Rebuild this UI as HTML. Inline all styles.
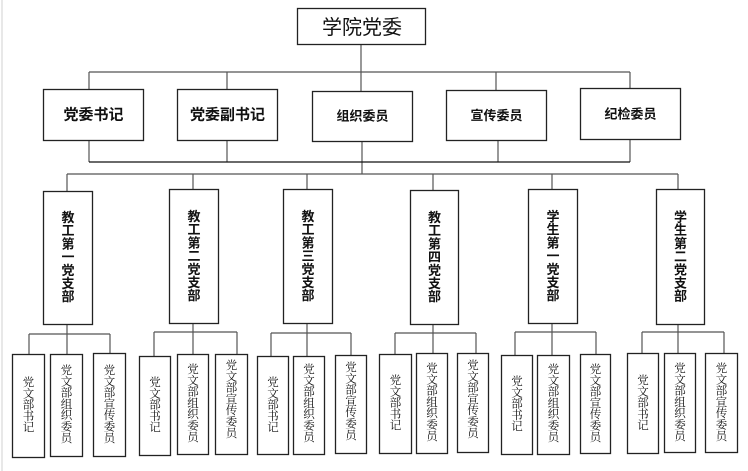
<!DOCTYPE html>
<html>
<head>
<meta charset="utf-8">
<style>
html,body{margin:0;padding:0;background:#fff;}
svg{display:block;}
.sans{font-family:"Liberation Sans","Noto Sans CJK SC",sans-serif;}
.serif{font-family:"Liberation Serif","Noto Serif CJK SC",serif;}
text{dominant-baseline:central;text-anchor:middle;fill:#111;}
.box{fill:#fff;stroke:#222;stroke-width:1.3;}
.ln{stroke:#555;stroke-width:1.2;fill:none;}
.lnd{stroke:#111;stroke-width:1.3;fill:none;}
.r3{font-size:13px;font-weight:bold;}
.bt{font-size:11.5px;}
</style>
</head>
<body>
<svg width="748" height="471" viewBox="0 0 748 471" xmlns="http://www.w3.org/2000/svg">
<line x1="2" y1="0" x2="2" y2="471" stroke="#d0d0d0" stroke-width="1"/>

<!-- top connectors -->
<path class="ln" d="M361 44 V72 M89 72 H630 M89 72 V89 M227 72 V89 M361 72 V91 M496 72 V90 M630 72 V88"/>
<path class="ln" d="M89 140 V162 M227 140 V162 M362 141 V174 M498 140 V162 M630 139 V162"/>
<path class="lnd" d="M89 162 H630"/>
<path class="ln" d="M67 174 H678 M67 174 V191 M193 174 V189 M307 174 V189 M433 174 V190 M552 174 V189 M678 174 V189"/>

<!-- row3 to groups -->
<path class="ln" d="M67 324 V354 M29 334 H110 M29 334 V354 M110 334 V353"/>
<path class="ln" d="M193 323 V354 M154 332 H237 M154 332 V356 M237 332 V354"/>
<path class="ln" d="M307 323 V356 M271 333 H351 M271 333 V356 M351 333 V355"/>
<path class="ln" d="M433 324 V353 M395 333 H476 M395 333 V354 M476 333 V353"/>
<path class="ln" d="M552 323 V355 M515 332 H596 M515 332 V355 M596 332 V354"/>
<path class="ln" d="M678 324 V353 M642 332 H724 M642 332 V353 M724 332 V353"/>

<!-- top box -->
<rect class="box" x="297.5" y="8.5" width="128" height="36"/>
<text class="sans" x="362" y="28" font-size="20">学院党委</text>

<!-- row 2 -->
<rect class="box" x="43.5" y="89.5" width="100" height="51"/>
<text class="sans" x="93.5" y="115" font-size="15" font-weight="bold">党委书记</text>
<rect class="box" x="177.5" y="89.5" width="100" height="51"/>
<text class="sans" x="227.5" y="115" font-size="15" font-weight="bold">党委副书记</text>
<rect class="box" x="312.5" y="91.5" width="100" height="50"/>
<text class="sans" x="362.5" y="116" font-size="13" font-weight="bold">组织委员</text>
<rect class="box" x="446.5" y="90.5" width="100" height="50"/>
<text class="sans" x="496.5" y="115.5" font-size="13" font-weight="bold">宣传委员</text>
<rect class="box" x="580.5" y="88.5" width="100" height="51"/>
<text class="sans" x="630.5" y="114" font-size="13" font-weight="bold">纪检委员</text>

<!-- row 3 -->
<rect class="box" x="43.5" y="191.5" width="49" height="133"/>
<text class="sans r3"><tspan x="68" y="217">教</tspan><tspan x="68" y="230.2">工</tspan><tspan x="68" y="243.4">第</tspan><tspan x="68" y="256.6">一</tspan><tspan x="68" y="269.8">党</tspan><tspan x="68" y="283">支</tspan><tspan x="68" y="296.2">部</tspan></text>
<rect class="box" x="169.5" y="189.5" width="49" height="134"/>
<text class="sans r3"><tspan x="194" y="216">教</tspan><tspan x="194" y="229.2">工</tspan><tspan x="194" y="242.4">第</tspan><tspan x="194" y="255.6">二</tspan><tspan x="194" y="268.8">党</tspan><tspan x="194" y="282">支</tspan><tspan x="194" y="295.2">部</tspan></text>
<rect class="box" x="283.5" y="189.5" width="49" height="134"/>
<text class="sans r3"><tspan x="308" y="216">教</tspan><tspan x="308" y="229.2">工</tspan><tspan x="308" y="242.4">第</tspan><tspan x="308" y="255.6">三</tspan><tspan x="308" y="268.8">党</tspan><tspan x="308" y="282">支</tspan><tspan x="308" y="295.2">部</tspan></text>
<rect class="box" x="410.5" y="190.5" width="48" height="134"/>
<text class="sans r3"><tspan x="434.5" y="217">教</tspan><tspan x="434.5" y="230.2">工</tspan><tspan x="434.5" y="243.4">第</tspan><tspan x="434.5" y="256.6">四</tspan><tspan x="434.5" y="269.8">党</tspan><tspan x="434.5" y="283">支</tspan><tspan x="434.5" y="296.2">部</tspan></text>
<rect class="box" x="528.5" y="189.5" width="49" height="134"/>
<text class="sans r3"><tspan x="553" y="216">学</tspan><tspan x="553" y="229.2">生</tspan><tspan x="553" y="242.4">第</tspan><tspan x="553" y="255.6">一</tspan><tspan x="553" y="268.8">党</tspan><tspan x="553" y="282">支</tspan><tspan x="553" y="295.2">部</tspan></text>
<rect class="box" x="656.5" y="189.5" width="48" height="135"/>
<text class="sans r3"><tspan x="680.5" y="216.5">学</tspan><tspan x="680.5" y="229.7">生</tspan><tspan x="680.5" y="242.9">第</tspan><tspan x="680.5" y="256.1">二</tspan><tspan x="680.5" y="269.3">党</tspan><tspan x="680.5" y="282.5">支</tspan><tspan x="680.5" y="295.7">部</tspan></text>

<!-- bottom group 1 -->
<rect class="box" x="12.5" y="354.5" width="32" height="103"/>
<text class="serif bt"><tspan x="28.5" y="383">党</tspan><tspan x="28.5" y="394.3">文</tspan><tspan x="28.5" y="405.6">部</tspan><tspan x="28.5" y="416.9">书</tspan><tspan x="28.5" y="428.2">记</tspan></text>
<rect class="box" x="50.5" y="354.5" width="32" height="102"/>
<text class="serif bt"><tspan x="66.5" y="371">党</tspan><tspan x="66.5" y="382.3">文</tspan><tspan x="66.5" y="393.6">部</tspan><tspan x="66.5" y="404.9">组</tspan><tspan x="66.5" y="416.2">织</tspan><tspan x="66.5" y="427.5">委</tspan><tspan x="66.5" y="438.8">员</tspan></text>
<rect class="box" x="93.5" y="353.5" width="32" height="103"/>
<text class="serif bt"><tspan x="109.5" y="371">党</tspan><tspan x="109.5" y="382.3">文</tspan><tspan x="109.5" y="393.6">部</tspan><tspan x="109.5" y="404.9">宣</tspan><tspan x="109.5" y="416.2">传</tspan><tspan x="109.5" y="427.5">委</tspan><tspan x="109.5" y="438.8">员</tspan></text>

<!-- bottom group 2 -->
<rect class="box" x="139.5" y="356.5" width="31" height="99"/>
<text class="serif bt"><tspan x="155" y="383">党</tspan><tspan x="155" y="394.3">文</tspan><tspan x="155" y="405.6">部</tspan><tspan x="155" y="416.9">书</tspan><tspan x="155" y="428.2">记</tspan></text>
<rect class="box" x="177.5" y="354.5" width="31" height="100"/>
<text class="serif bt"><tspan x="193" y="370">党</tspan><tspan x="193" y="381.3">文</tspan><tspan x="193" y="392.6">部</tspan><tspan x="193" y="403.9">组</tspan><tspan x="193" y="415.2">织</tspan><tspan x="193" y="426.5">委</tspan><tspan x="193" y="437.8">员</tspan></text>
<rect class="box" x="215.5" y="354.5" width="32" height="100"/>
<text class="serif bt"><tspan x="231.5" y="366">党</tspan><tspan x="231.5" y="377.3">文</tspan><tspan x="231.5" y="388.6">部</tspan><tspan x="231.5" y="399.9">宣</tspan><tspan x="231.5" y="411.2">传</tspan><tspan x="231.5" y="422.5">委</tspan><tspan x="231.5" y="433.8">员</tspan></text>

<!-- bottom group 3 -->
<rect class="box" x="257.5" y="356.5" width="31" height="98"/>
<text class="serif bt"><tspan x="273" y="383">党</tspan><tspan x="273" y="394.3">文</tspan><tspan x="273" y="405.6">部</tspan><tspan x="273" y="416.9">书</tspan><tspan x="273" y="428.2">记</tspan></text>
<rect class="box" x="293.5" y="356.5" width="31" height="98"/>
<text class="serif bt"><tspan x="309" y="370">党</tspan><tspan x="309" y="381.3">文</tspan><tspan x="309" y="392.6">部</tspan><tspan x="309" y="403.9">组</tspan><tspan x="309" y="415.2">织</tspan><tspan x="309" y="426.5">委</tspan><tspan x="309" y="437.8">员</tspan></text>
<rect class="box" x="335.5" y="355.5" width="31" height="98"/>
<text class="serif bt"><tspan x="351" y="368">党</tspan><tspan x="351" y="379.3">文</tspan><tspan x="351" y="390.6">部</tspan><tspan x="351" y="401.9">宣</tspan><tspan x="351" y="413.2">传</tspan><tspan x="351" y="424.5">委</tspan><tspan x="351" y="435.8">员</tspan></text>

<!-- bottom group 4 -->
<rect class="box" x="379.5" y="354.5" width="32" height="99"/>
<text class="serif bt"><tspan x="395.5" y="381">党</tspan><tspan x="395.5" y="392.3">文</tspan><tspan x="395.5" y="403.6">部</tspan><tspan x="395.5" y="414.9">书</tspan><tspan x="395.5" y="426.2">记</tspan></text>
<rect class="box" x="416.5" y="353.5" width="31" height="100"/>
<text class="serif bt"><tspan x="432" y="369">党</tspan><tspan x="432" y="380.3">文</tspan><tspan x="432" y="391.6">部</tspan><tspan x="432" y="402.9">组</tspan><tspan x="432" y="414.2">织</tspan><tspan x="432" y="425.5">委</tspan><tspan x="432" y="436.8">员</tspan></text>
<rect class="box" x="457.5" y="353.5" width="31" height="99"/>
<text class="serif bt"><tspan x="473" y="366">党</tspan><tspan x="473" y="377.3">文</tspan><tspan x="473" y="388.6">部</tspan><tspan x="473" y="399.9">宣</tspan><tspan x="473" y="411.2">传</tspan><tspan x="473" y="422.5">委</tspan><tspan x="473" y="433.8">员</tspan></text>

<!-- bottom group 5 -->
<rect class="box" x="501.5" y="355.5" width="31" height="99"/>
<text class="serif bt"><tspan x="517" y="382">党</tspan><tspan x="517" y="393.3">文</tspan><tspan x="517" y="404.6">部</tspan><tspan x="517" y="415.9">书</tspan><tspan x="517" y="427.2">记</tspan></text>
<rect class="box" x="537.5" y="355.5" width="32" height="99"/>
<text class="serif bt"><tspan x="553.5" y="370">党</tspan><tspan x="553.5" y="381.3">文</tspan><tspan x="553.5" y="392.6">部</tspan><tspan x="553.5" y="403.9">组</tspan><tspan x="553.5" y="415.2">织</tspan><tspan x="553.5" y="426.5">委</tspan><tspan x="553.5" y="437.8">员</tspan></text>
<rect class="box" x="580.5" y="354.5" width="30" height="99"/>
<text class="serif bt"><tspan x="595.5" y="370">党</tspan><tspan x="595.5" y="381.3">文</tspan><tspan x="595.5" y="392.6">部</tspan><tspan x="595.5" y="403.9">宣</tspan><tspan x="595.5" y="415.2">传</tspan><tspan x="595.5" y="426.5">委</tspan><tspan x="595.5" y="437.8">员</tspan></text>

<!-- bottom group 6 -->
<rect class="box" x="627.5" y="353.5" width="31" height="100"/>
<text class="serif bt"><tspan x="643" y="381">党</tspan><tspan x="643" y="392.3">文</tspan><tspan x="643" y="403.6">部</tspan><tspan x="643" y="414.9">书</tspan><tspan x="643" y="426.2">记</tspan></text>
<rect class="box" x="664.5" y="353.5" width="31" height="99"/>
<text class="serif bt"><tspan x="680" y="369">党</tspan><tspan x="680" y="380.3">文</tspan><tspan x="680" y="391.6">部</tspan><tspan x="680" y="402.9">组</tspan><tspan x="680" y="414.2">织</tspan><tspan x="680" y="425.5">委</tspan><tspan x="680" y="436.8">员</tspan></text>
<rect class="box" x="705.5" y="353.5" width="32" height="99"/>
<text class="serif bt"><tspan x="721.5" y="369">党</tspan><tspan x="721.5" y="380.3">文</tspan><tspan x="721.5" y="391.6">部</tspan><tspan x="721.5" y="402.9">宣</tspan><tspan x="721.5" y="414.2">传</tspan><tspan x="721.5" y="425.5">委</tspan><tspan x="721.5" y="436.8">员</tspan></text>
</svg>
</body>
</html>
